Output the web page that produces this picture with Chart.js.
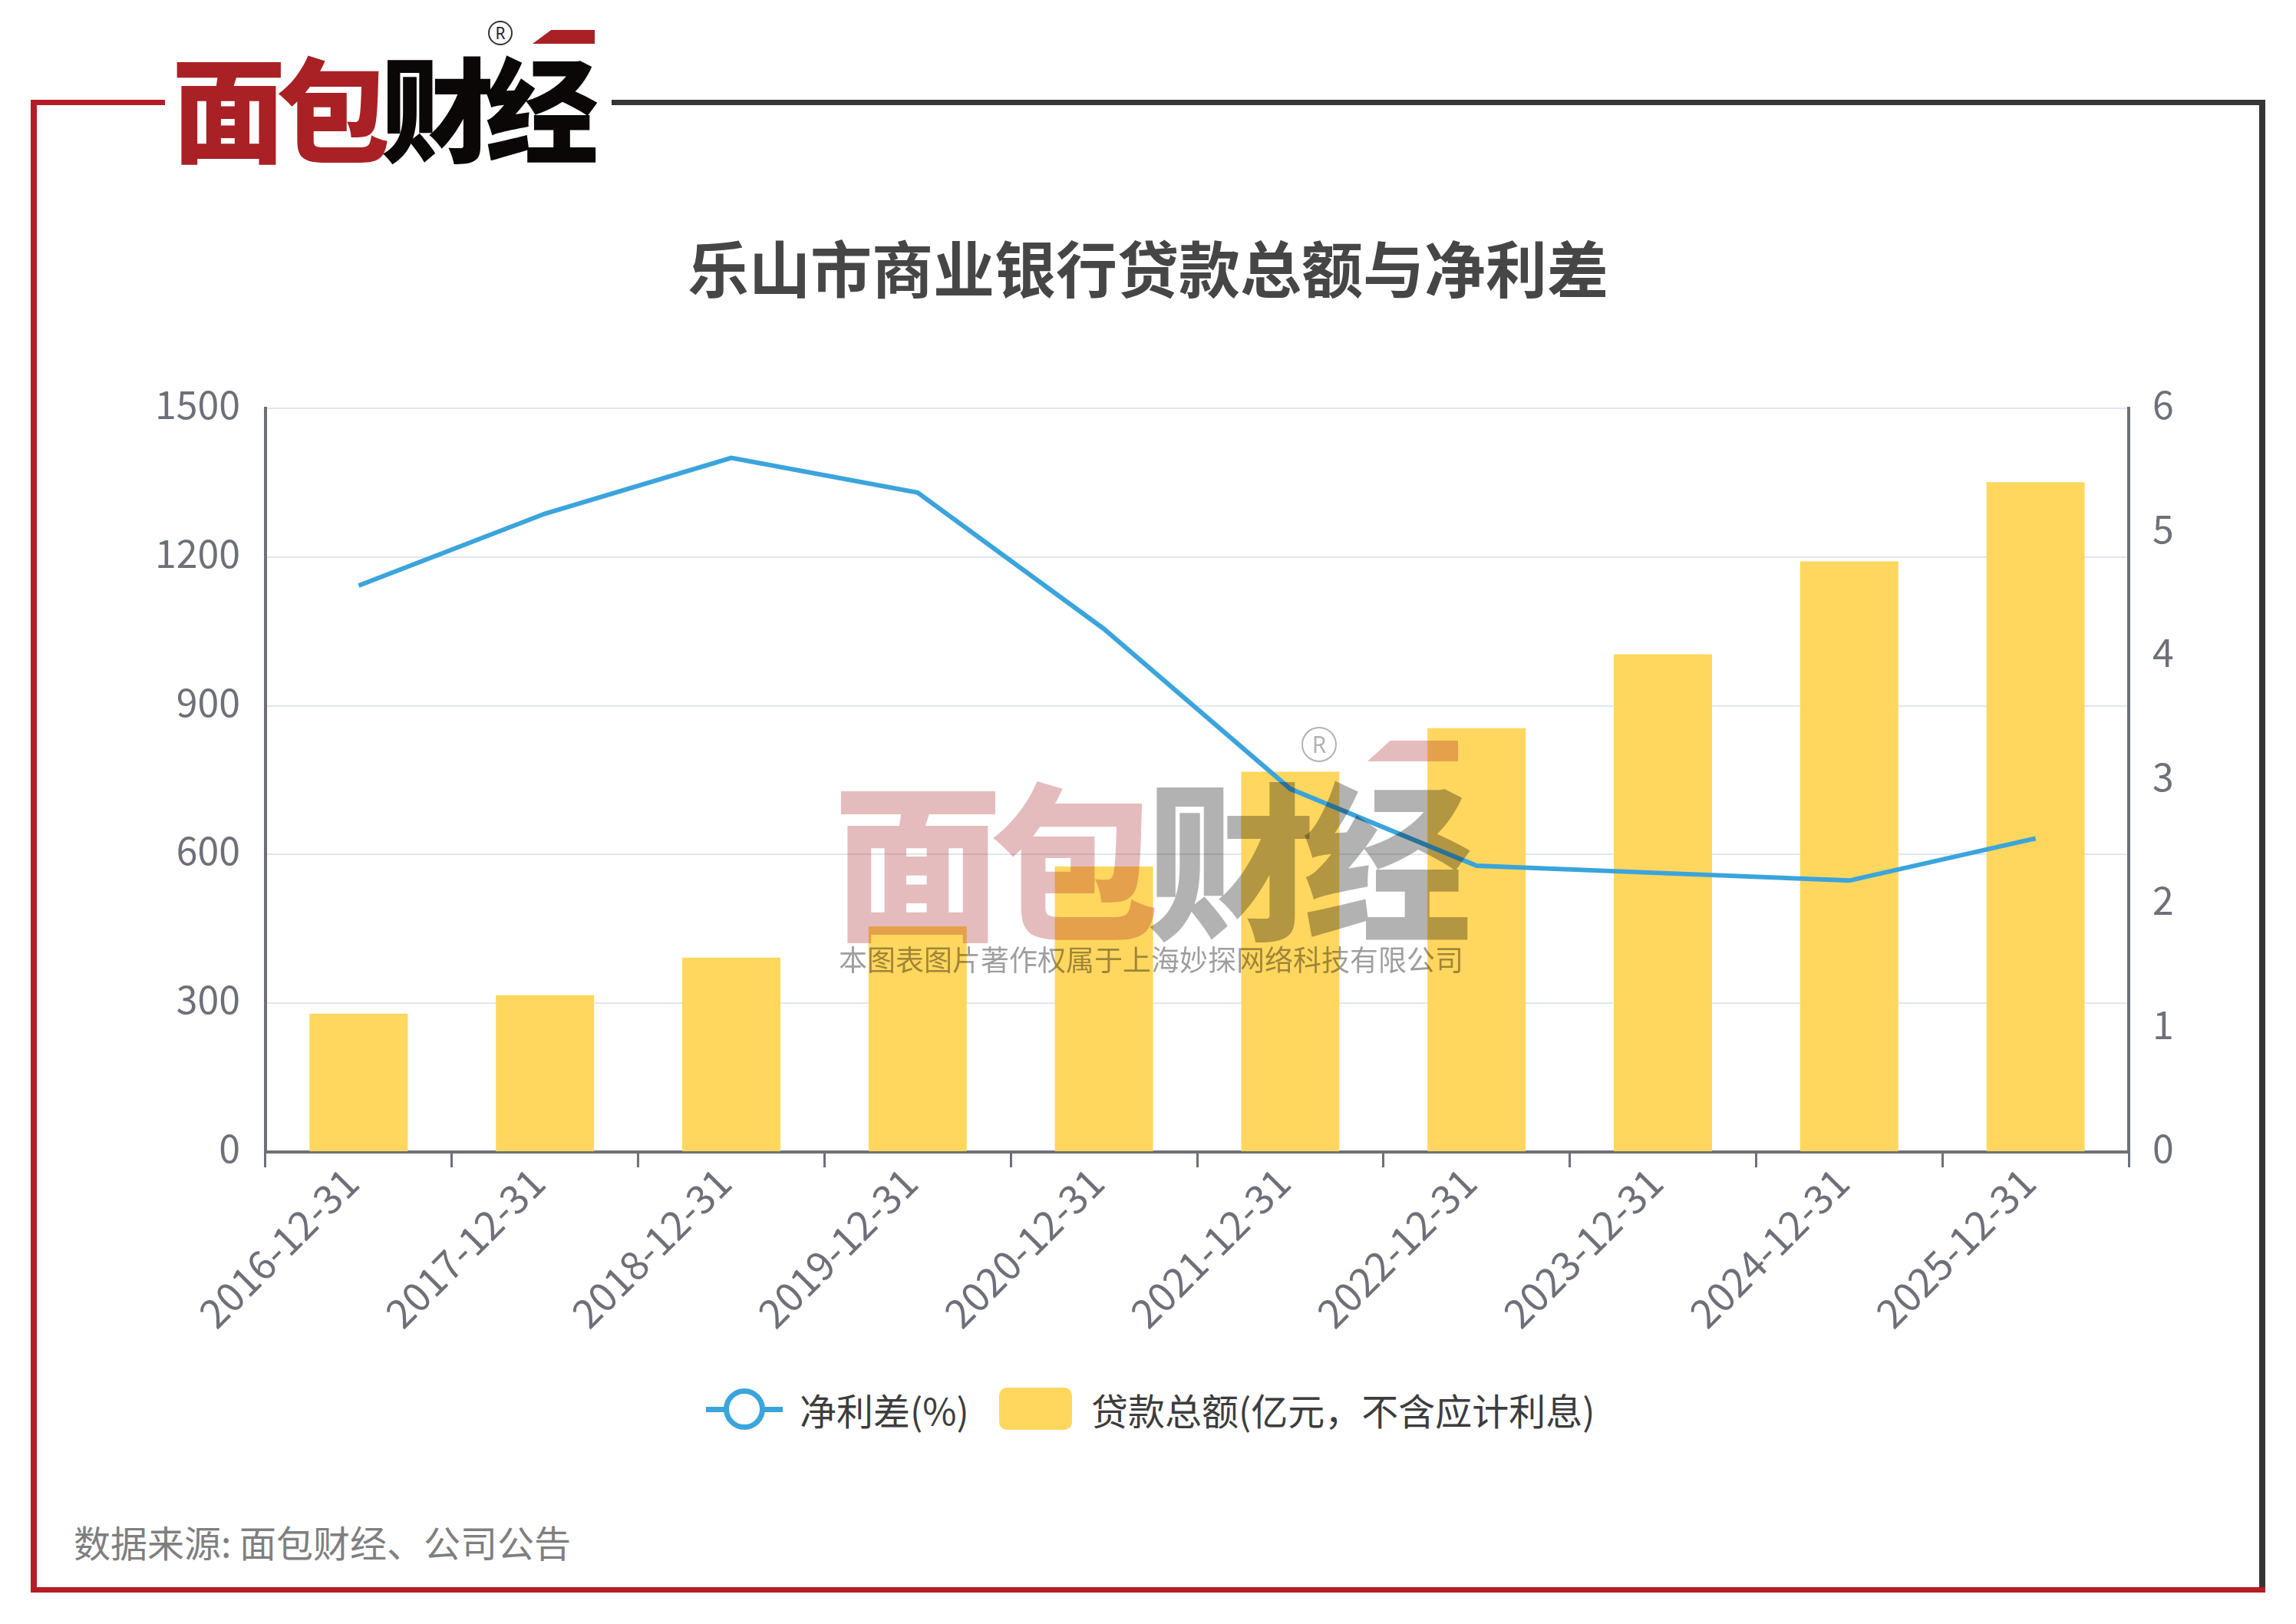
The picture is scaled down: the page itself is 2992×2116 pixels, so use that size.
<!DOCTYPE html>
<html><head><meta charset="utf-8">
<script src="https://cdn.jsdelivr.net/npm/chart.js@4.4.0/dist/chart.umd.min.js"></script>
<style>
html,body{margin:0;padding:0;background:#fff;}
body{width:2992px;height:2116px;position:relative;overflow:hidden;font-family:"Noto Sans CJK SC","Noto Sans",sans-serif;}
.abs{position:absolute;white-space:nowrap;}
.reg{position:absolute;box-sizing:border-box;border-radius:50%;text-align:center;font-family:"Noto Sans","DejaVu Sans",sans-serif;}
#c{position:absolute;left:0;top:0;z-index:2;}
#wm{position:absolute;left:0;top:0;width:2992px;height:2116px;z-index:3;pointer-events:none;}
</style></head><body>
<!-- frame -->
<div class="abs" style="left:40px;top:130px;width:175px;height:7px;background:#b51c25"></div>
<div class="abs" style="left:797px;top:130px;width:2155px;height:7px;background:#353535"></div>
<div class="abs" style="left:2944px;top:130px;width:8px;height:1945px;background:#353535"></div>
<div class="abs" style="left:40px;top:130px;width:8px;height:1945px;background:#b51c25"></div>
<div class="abs" style="left:40px;top:2068px;width:2912px;height:7px;background:#b51c25"></div>
<!-- logo -->
<div class="abs" style="left:224px;top:62px;font-size:148px;line-height:148px;font-weight:900;letter-spacing:-12px"><span style="color:#a92125">面包</span><span style="color:#0b0707">财经</span></div>
<div class="reg" style="left:636px;top:27px;width:32px;height:32px;border:2px solid #333;font-size:21px;line-height:28px;color:#222">R</div>
<div class="abs" style="left:694px;top:39px;width:81px;height:18px;background:#a92125;clip-path:polygon(30% 0,100% 0,100% 100%,0 100%)"></div>
<!-- title -->
<div class="abs" style="left:0;top:306px;width:2992px;text-align:center;font-size:80px;line-height:80px;font-weight:700;color:#464646">乐山市商业银行贷款总额与净利差</div>
<!-- legend -->
<div class="abs" style="left:920px;top:1833px;width:100px;height:7px;background:#3ba4dc"></div>
<div class="abs" style="left:943px;top:1809px;width:54px;height:54px;box-sizing:border-box;border:7px solid #3ba4dc;border-radius:50%;background:#fff"></div>
<div class="abs" style="left:1042px;top:1812px;font-size:48px;line-height:48px;color:#3d3d3d">净利差(%)</div>
<div class="abs" style="left:1302px;top:1808px;width:95px;height:55px;border-radius:10px;background:#ffd75e"></div>
<div class="abs" style="left:1422px;top:1812px;font-size:48px;line-height:48px;color:#3d3d3d">贷款总额(亿元，不含应计利息)</div>
<!-- footer -->
<div class="abs" style="left:96px;top:1984px;font-size:48px;line-height:48px;color:#7f7f7f">数据来源: 面包财经、公司公告</div>

<canvas id="c" width="2992" height="2116"></canvas>

<div id="wm">
  <div class="abs" style="left:1086px;top:1002px;font-size:220px;line-height:220px;font-weight:900;letter-spacing:-16px"><span style="color:rgba(169,33,37,0.3)">面包</span><span style="color:rgba(0,0,0,0.3)">财经</span></div>
  <div class="reg" style="left:1696px;top:947px;width:46px;height:46px;border:2px solid rgba(0,0,0,0.3);font-size:30px;line-height:42px;color:rgba(0,0,0,0.3)">R</div>
  <div class="abs" style="left:1782px;top:965px;width:118px;height:27px;background:rgba(169,33,37,0.3);clip-path:polygon(25% 0,100% 0,100% 100%,0 100%)"></div>
  <div class="abs" style="left:1093px;top:1231px;font-size:37px;line-height:37px;color:rgba(0,0,0,0.38)">本图表图片著作权属于上海妙探网络科技有限公司</div>
</div>

<script>
const categories = ['2016-12-31','2017-12-31','2018-12-31','2019-12-31','2020-12-31','2021-12-31','2022-12-31','2023-12-31','2024-12-31','2025-12-31'];
const loanTotals = [279, 316, 392, 455, 576, 767, 855, 1004, 1191, 1351];
const netInterestMargin = [4.57, 5.15, 5.60, 5.32, 4.22, 2.93, 2.31, 2.25, 2.19, 2.53];
const leftAxis = {min: 0, max: 1500, step: 300};
const rightAxis = {min: 0, max: 6, step: 1};

const FONT = '"Noto Sans CJK SC","Noto Sans",sans-serif';
const AXIS = '#6e7079';
Chart.defaults.font.family = FONT;

new Chart(document.getElementById('c'), {
  data: {
    labels: categories,
    datasets: [
      {type:'line', label:'净利差(%)', data: netInterestMargin, yAxisID:'y1', borderColor:'#3ba4dc', borderWidth:6, pointRadius:0, tension:0, order:0, fill:false},
      {type:'bar', label:'贷款总额(亿元，不含应计利息)', data: loanTotals, yAxisID:'y', backgroundColor:'#ffd75e', barPercentage:0.527, categoryPercentage:1, order:1}
    ]
  },
  options: {
    responsive:false, animation:false, devicePixelRatio:1,
    layout:{padding:{top:532, left:0, right:0, bottom:0}},
    plugins:{legend:{display:false}, title:{display:false}, tooltip:{enabled:false}},
    scales:{
      x:{
        type:'category', offset:true,
        grid:{display:true, drawOnChartArea:false, drawTicks:true, tickLength:20, color:AXIS, lineWidth:3, offset:true},
        border:{display:true, color:AXIS, width:4},
        ticks:{minRotation:45, maxRotation:45, autoSkip:false, color:AXIS, font:{size:52}, padding:-12, labelOffset:-10},
        afterFit:(s)=>{ s.height = 2116 - 1501; }
      },
      y:{
        position:'left', min:leftAxis.min, max:leftAxis.max,
        grid:{color:'#e0e6f1', lineWidth:2, drawTicks:false},
        border:{display:true, color:AXIS, width:4},
        ticks:{stepSize:leftAxis.step, color:AXIS, font:{size:50}, padding:33, labelOffset:-5, callback:(v)=>String(v)},
        afterFit:(s)=>{ s.width = 346; }
      },
      y1:{
        position:'right', min:rightAxis.min, max:rightAxis.max,
        grid:{drawOnChartArea:false, drawTicks:false},
        border:{display:true, color:AXIS, width:4},
        ticks:{stepSize:rightAxis.step, color:AXIS, font:{size:50}, padding:31, labelOffset:-5, callback:(v)=>String(v)},
        afterFit:(s)=>{ s.width = 2992 - 2774; }
      }
    }
  }
});
</script>
</body></html>
